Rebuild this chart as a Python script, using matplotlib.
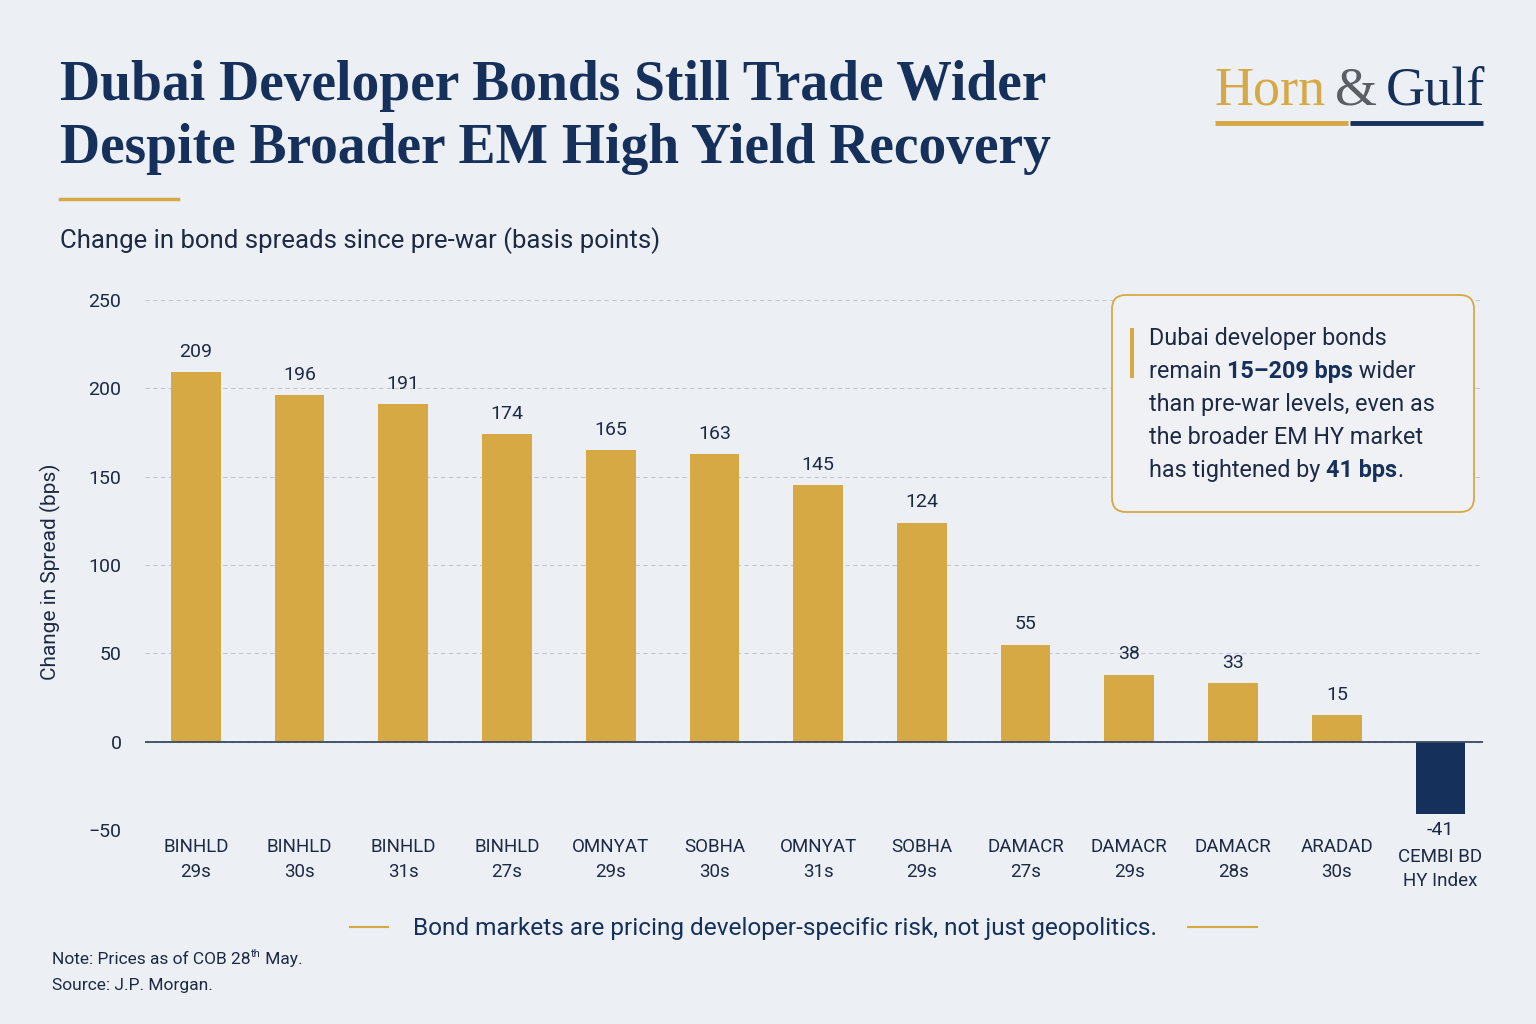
import matplotlib.pyplot as plt
from matplotlib.patches import FancyBboxPatch, Rectangle
from matplotlib.lines import Line2D

# data
bonds = ["BINHLD\n29s", "BINHLD\n30s", "BINHLD\n31s", "BINHLD\n27s", "OMNYAT\n29s",
         "SOBHA\n30s", "OMNYAT\n31s", "SOBHA\n29s", "DAMACR\n27s", "DAMACR\n29s",
         "DAMACR\n28s", "ARADAD\n30s", "CEMBI BD\nHY Index"]
spreads = [209, 196, 191, 174, 165, 163, 145, 124, 55, 38, 33, 15, -41]
yticks = [-50, 0, 50, 100, 150, 200, 250]

BG = "#ECEFF3"
GOLD = "#D6A945"
NAVY = "#15305A"
TEXT = "#1E2A44"
GRID = "#C5CAD2"
SANS = "Roboto"
SERIF = "Liberation Serif"

W, H = 1536, 1024
fig = plt.figure(figsize=(W / 100, H / 100), dpi=100, facecolor=BG)
inch = fig.dpi_scale_trans


def P(x, y):
    # pixel (from top-left) -> inches for dpi_scale_trans
    return x / 100, (H - y) / 100


def runs(x, y, parts, size, family=SANS, color=TEXT, gap=0):
    r = fig.canvas.get_renderer()
    for txt, weight, col in parts:
        t = fig.text(*P(x, y), txt, transform=inch, fontsize=size, fontweight=weight,
                     family=family, color=col or color, va="baseline", ha="left")
        x += t.get_window_extent(r).width + gap
    return x


# chart
ax = fig.add_axes([145 / W, 1 - 830 / H, 1338 / W, 530 / H])
ax.patch.set_alpha(0)
xs = list(range(len(spreads)))
colors = [GOLD if v > 0 else NAVY for v in spreads]
ax.bar(xs, spreads, width=0.48, color=colors, zorder=3)
ax.set_xlim(-0.49, 12.41)
ax.set_ylim(-50, 250)
ax.set_yticks(yticks)
ax.set_xticks([])
ax.grid(axis="y", color=GRID, linestyle=(0, (4, 3)), linewidth=0.8, zorder=0)
ax.axhline(0, color="#3B4A63", linewidth=1.3, zorder=4)
for s in ax.spines.values():
    s.set_visible(False)
ax.tick_params(axis="y", length=0, labelsize=14, labelcolor=TEXT, pad=17)
for lab in ax.get_yticklabels():
    lab.set_family(SANS)

for i, v in enumerate(spreads):
    if v >= 0:
        ax.annotate(str(v), (i, v), xytext=(0, 8), textcoords="offset points",
                    ha="center", va="bottom", fontsize=14, color=TEXT, family=SANS)
    else:
        ax.annotate(str(v), (i, v), xytext=(0, -5), textcoords="offset points",
                    ha="center", va="top", fontsize=14, color=TEXT, family=SANS)

for i, lab in enumerate(bonds):
    off = -6 if spreads[i] >= 0 else -13
    ax.annotate(lab, (i, 0), xycoords=("data", "axes fraction"), xytext=(0, off),
                textcoords="offset points", ha="center", va="top", fontsize=13.5,
                color=TEXT, family=SANS, linespacing=1.45)

fig.text(*P(50, 572), "Change in Spread (bps)", transform=inch, rotation=90,
         ha="center", va="center", fontsize=15, color=TEXT, family=SANS)

# title block
fig.text(*P(60, 100), "Dubai Developer Bonds Still Trade Wider", transform=inch,
         fontsize=40, fontweight="bold", family=SERIF, color=NAVY, va="baseline")
fig.text(*P(60, 163), "Despite Broader EM High Yield Recovery", transform=inch,
         fontsize=40, fontweight="bold", family=SERIF, color=NAVY, va="baseline")
fig.add_artist(Line2D([0.60, 1.78], [P(0, 199)[1]] * 2, transform=inch, color=GOLD, lw=2.5))
fig.text(*P(60, 248), "Change in bond spreads since pre-war (basis points)", transform=inch,
         fontsize=18.5, family=SANS, color=TEXT, va="baseline")

# logo
runs(1215, 104, [("Horn", "normal", GOLD), ("&", "normal", "#5A5F66"), ("Gulf", "normal", NAVY)],
     39, family=SERIF, gap=9)
fig.add_artist(Line2D([12.15, 13.48], [P(0, 123)[1]] * 2, transform=inch, color=GOLD, lw=3.5,
                      solid_capstyle="butt"))
fig.add_artist(Line2D([13.50, 14.83], [P(0, 123)[1]] * 2, transform=inch, color=NAVY, lw=3.5,
                      solid_capstyle="butt"))

# callout box
bx0, by0 = P(1112, 512)
fig.add_artist(FancyBboxPatch((bx0, by0), 3.62, 2.17, boxstyle="round,pad=0,rounding_size=0.14",
                              transform=inch, facecolor="#EFF1F4", edgecolor=GOLD, lw=1.3))
fig.add_artist(Rectangle(P(1130, 378), 0.035, 0.50, transform=inch, facecolor=GOLD,
                         edgecolor="none"))
box_lines = [
    [("Dubai developer bonds", "normal", None)],
    [("remain ", "normal", None), ("15\u2013209 bps", "bold", NAVY), (" wider", "normal", None)],
    [("than pre-war levels, even as", "normal", None)],
    [("the broader EM HY market", "normal", None)],
    [("has tightened by ", "normal", None), ("41 bps", "bold", NAVY), (".", "normal", None)],
]
for k, parts in enumerate(box_lines):
    runs(1149, 345 + 33 * k, parts, 16.8)

# tagline
fig.text(*P(785, 935), "Bond markets are pricing developer-specific risk, not just geopolitics.",
         transform=inch, ha="center", va="baseline", fontsize=17.6, family=SANS, color=NAVY)
fig.add_artist(Line2D([3.50, 3.88], [P(0, 927)[1]] * 2, transform=inch, color=GOLD, lw=1.5))
fig.add_artist(Line2D([11.88, 12.57], [P(0, 927)[1]] * 2, transform=inch, color=GOLD, lw=1.5))

# notes
xe = runs(52, 964, [("Note: Prices as of COB 28", "normal", None)], 12.5)
xe = runs(xe, 957, [("th", "normal", None)], 8)
runs(xe + 1, 964, [(" May.", "normal", None)], 12.5)
runs(52, 990, [("Source: J.P. Morgan.", "normal", None)], 12.5)

fig.savefig("out.png", dpi=100, facecolor=BG)
